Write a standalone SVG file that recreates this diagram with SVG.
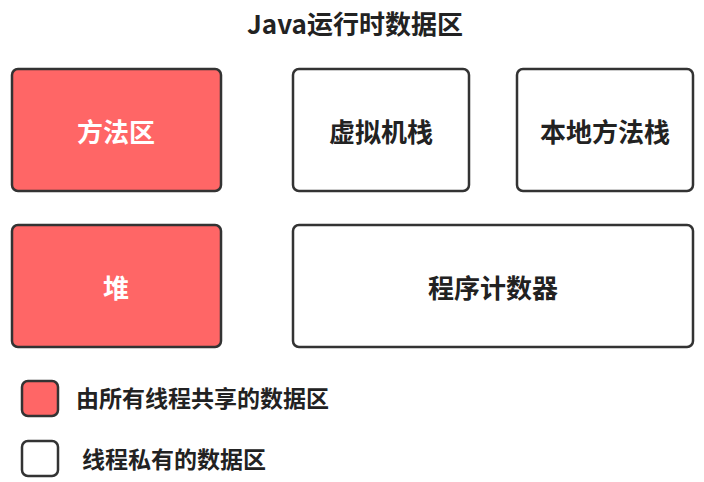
<svg xmlns="http://www.w3.org/2000/svg" width="704" height="482" viewBox="0 0 704 482">
<style>
.b{stroke:#333;stroke-width:2.5}
.r{fill:#FF6666}
.w{fill:#fff}
text{font-family:"Noto Sans CJK SC","Liberation Sans",sans-serif;font-weight:bold;fill:#222}
.n{font-size:26px;text-anchor:middle;dominant-baseline:central}
.t{font-size:26px}
.l{font-size:23px}
.wt{fill:#fff}
</style>
<rect width="704" height="482" fill="#fff"/>
<text x="355" y="22" class="n t">Java运行时数据区</text>
<g id="method"><rect class="b r" x="12" y="69" width="209" height="122" rx="6"/><text x="116" y="130" class="n wt">方法区</text></g>
<g id="vmstack"><rect class="b w" x="293" y="69" width="176" height="122" rx="6"/><text x="381" y="130" class="n">虚拟机栈</text></g>
<g id="native"><rect class="b w" x="517" y="69" width="176" height="122" rx="6"/><text x="605" y="130" class="n">本地方法栈</text></g>
<g id="heap"><rect class="b r" x="12" y="225" width="209" height="122" rx="6"/><text x="116" y="286" class="n wt">堆</text></g>
<g id="pc"><rect class="b w" x="293" y="225" width="400" height="122" rx="6"/><text x="493" y="286" class="n">程序计数器</text></g>
<g id="legend">
<rect class="b r" x="22" y="381" width="36" height="35" rx="6"/>
<text x="76" y="407" class="l">由所有线程共享的数据区</text>
<rect class="b w" x="22" y="441" width="36" height="35" rx="6"/>
<text x="82" y="468" class="l">线程私有的数据区</text>
</g>
<g id="connectors"/>
</svg>
